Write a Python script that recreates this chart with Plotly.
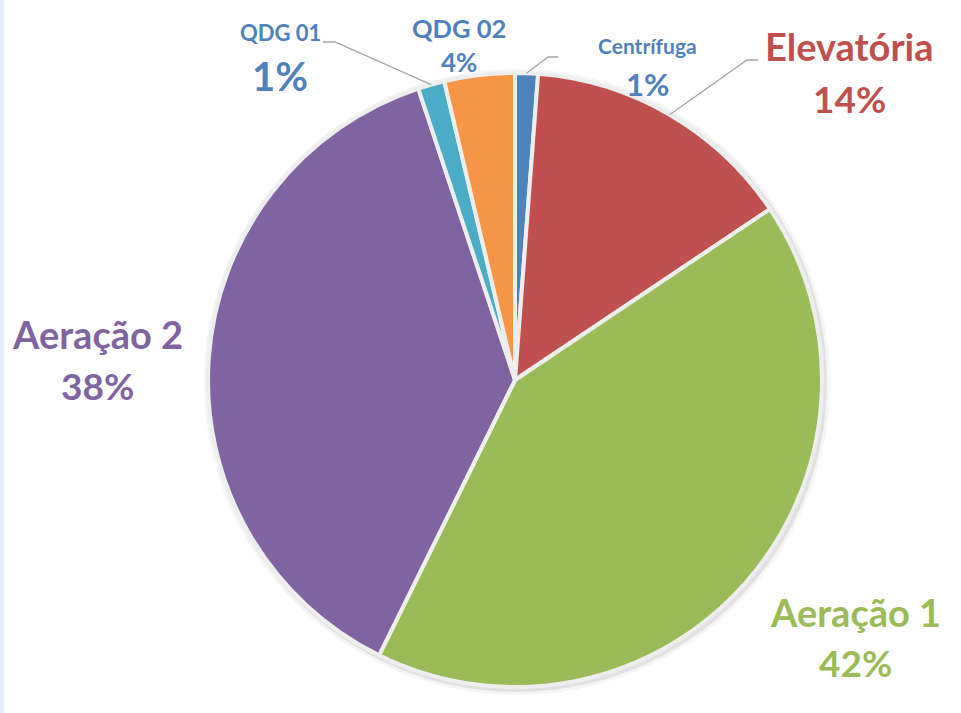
import math
import plotly.graph_objects as go

# ---- data ----
labels = ["Centrífuga", "Elevatória", "Aeração 1", "Aeração 2", "QDG 01", "QDG 02"]
values = [1.2, 14.4, 41.7, 37.6, 1.4, 3.7]
colors = ["#4F81BD", "#C0504D", "#9BBB59", "#8064A2", "#4BACC6", "#F79646"]
label_colors = ["#4F81BD", "#C0504D", "#9BBB59", "#8064A2", "#4F81BD", "#4F81BD"]

# ---- geometry (pixels) ----
W, H = 961, 713
CX, CY, R = 515, 380, 307
FONT = "Lato"

fig = go.Figure()
fig.add_trace(go.Pie(
    labels=labels, values=values, sort=False, direction="clockwise", rotation=0,
    marker=dict(colors=colors, line=dict(color="#EEEEEE", width=4)),
    textinfo="none", hoverinfo="label+percent", showlegend=False,
    domain=dict(x=[(CX - R) / W, (CX + R) / W], y=[(H - CY - R) / H, (H - CY + R) / H]),
))

def px(x, y):
    return x / W, 1 - y / H

label_layout = {
    "Centrífuga": dict(name=(647, 45), ns=21, pct=(647, 84), ps=31, elbow=[(558, 57), (548, 57)]),
    "Elevatória": dict(name=(849, 46), ns=38, pct=(849, 98), ps=37, elbow=[(758, 60), (747, 60)]),
    "Aeração 1": dict(name=(855, 612), ns=38, pct=(855, 662), ps=37, elbow=None),
    "Aeração 2": dict(name=(97, 334), ns=38, pct=(97, 385), ps=37, elbow=None),
    "QDG 01": dict(name=(280, 32), ns=22, pct=(280, 76), ps=40, elbow=[(323, 42), (335, 42)]),
    "QDG 02": dict(name=(459, 28), ns=25.5, pct=(459, 62), ps=26, elbow=None),
}

total = sum(values)
cum = 0.0
shapes = []
annotations = []
for lab, v, col in zip(labels, values, label_colors):
    mid = (cum + v / 2) / total * 2 * math.pi
    cum += v
    L = label_layout[lab]
    pct = f"{round(v / total * 100)}%"
    for txt, (x, y), s in [(lab, L["name"], L["ns"]), (pct, L["pct"], L["ps"])]:
        xx, yy = px(x, y)
        annotations.append(dict(x=xx, y=yy, xref="paper", yref="paper", text=f"<b>{txt}</b>",
                                showarrow=False, xanchor="center", yanchor="middle",
                                font=dict(family=FONT, size=s, color=col)))
    if L["elbow"]:
        ex = CX + R * math.sin(mid)
        ey = CY - R * math.cos(mid)
        pts = L["elbow"] + [(ex, ey)]
        path = "M " + " L ".join(f"{px(x, y)[0]:.5f},{px(x, y)[1]:.5f}" for x, y in pts)
        shapes.append(dict(type="path", xref="paper", yref="paper", path=path,
                           line=dict(color="#A6A6A6", width=1.3)))

# subtle shadow halo behind pie
for grow, alpha in [(6, 0.04), (3, 0.08)]:
    shapes.append(dict(type="circle", xref="paper", yref="paper", layer="below",
                       x0=(CX - R - grow + 2) / W, x1=(CX + R + grow + 2) / W,
                       y0=1 - (CY + R + grow + 2) / H, y1=1 - (CY - R - grow + 2) / H,
                       fillcolor=f"rgba(0,0,0,{alpha})", line=dict(width=0)))
# light blue strip at left edge
shapes.append(dict(type="rect", xref="paper", yref="paper", layer="below",
                   x0=0, x1=4 / W, y0=0, y1=1, fillcolor="#E4EEF9", line=dict(width=0)))

fig.update_layout(
    width=W, height=H, margin=dict(l=0, r=0, t=0, b=0),
    paper_bgcolor="white", plot_bgcolor="white",
    shapes=shapes, annotations=annotations,
)
fig.write_html("out.html")
